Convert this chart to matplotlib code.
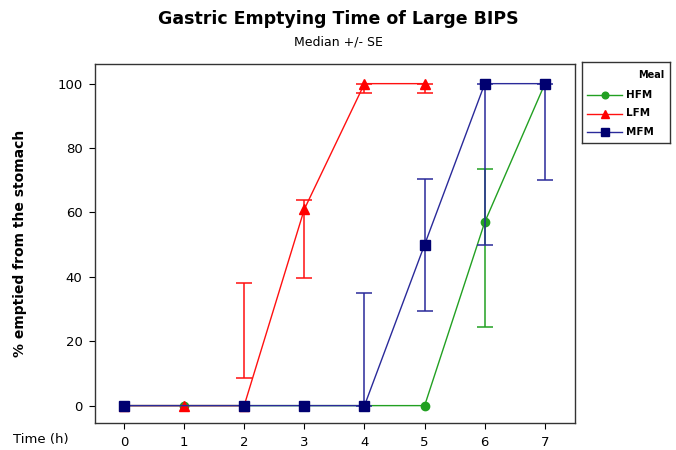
import numpy as np
import matplotlib
matplotlib.use("Agg")
import matplotlib.pyplot as plt

# ---- data ----
hfm_time = [0, 1, 2, 3, 4, 5, 6, 7]
hfm_med = [0, 0, 0, 0, 0, 0, 57, 100]
hfm_err_time = [6]
hfm_err_lo = [24.5]
hfm_err_hi = [73.5]

lfm_time = [0, 1, 2, 3, 4, 5]
lfm_med = [0, 0, 0, 61, 100, 100]
lfm_err_time = [2, 3, 4, 5]
lfm_err_lo = [8.5, 39.5, 97, 97]
lfm_err_hi = [38, 64, 100, 100]

mfm_time = [0, 2, 3, 4, 5, 6, 7]
mfm_med = [0, 0, 0, 0, 50, 100, 100]
mfm_err_time = [4, 5, 6, 7]
mfm_err_lo = [0, 29.5, 50, 70]
mfm_err_hi = [35, 70.5, 100, 100]

x_ticks = [0, 1, 2, 3, 4, 5, 6, 7]
y_ticks = [0, 20, 40, 60, 80, 100]

title = "Gastric Emptying Time of Large BIPS"
subtitle = "Median +/- SE"
ylabel = "% emptied from the stomach"
xlabel = "Time (h)"
legend_title = "Meal"

plt.rcParams['font.family'] = ['DejaVu Sans']

fig = plt.figure(figsize=(6.76, 4.5), dpi=100)
ax = fig.add_axes([95/676, 27/450, 480/676, 359/450])

series = [
    ("HFM", hfm_time, hfm_med, hfm_err_time, hfm_err_lo, hfm_err_hi, '#22a022', '#22a022', 'o', 6.0),
    ("LFM", lfm_time, lfm_med, lfm_err_time, lfm_err_lo, lfm_err_hi, '#ff1010', '#ff0000', '^', 7.0),
    ("MFM", mfm_time, mfm_med, mfm_err_time, mfm_err_lo, mfm_err_hi, '#2a2a9a', '#000070', 's', 7.0),
]

for i, (name, t, m, et, lo, hi, lc, mc, mk, ms) in enumerate(series):
    lo = np.array(lo, float)
    hi = np.array(hi, float)
    ax.errorbar(et, (lo + hi) / 2, yerr=(hi - lo) / 2, fmt='none', ecolor=lc,
                elinewidth=1.1, capsize=6, capthick=1.1, zorder=2 + i)
    ax.plot(t, m, color=lc, lw=1.0, marker=mk, ms=ms, mfc=mc, mec=mc,
            zorder=3 + i, label=name)

ax.set_xlim(-0.48, 7.5)
ax.set_ylim(-5.4, 106.1)
ax.set_xticks(x_ticks)
ax.set_yticks(y_ticks)
ax.tick_params(direction='out', length=4, width=0.8, labelsize=9.5, colors='black', pad=5)
for s in ax.spines.values():
    s.set_linewidth(1.0)
    s.set_color('#333333')

ax.set_ylabel(ylabel, fontsize=10, fontweight='bold')
ax.yaxis.set_label_coords((27 - 95) / 480, 0.5)
fig.text(13/676, 1 - 440/450, xlabel, fontsize=9.5, ha='left', va='center')

fig.text(338/676, 1 - 19/450, title, fontsize=12.5, fontweight='bold', ha='center', va='center')
fig.text(338/676, 1 - 42/450, subtitle, fontsize=9, ha='center', va='center')

# legend box
lax = fig.add_axes([582/676, 1 - 143/450, 88/676, 81/450])
lax.set_xlim(0, 88)
lax.set_ylim(81, 0)
lax.set_xticks([])
lax.set_yticks([])
for s in lax.spines.values():
    s.set_linewidth(1.0)
    s.set_color('#333333')
lax.text(69, 13, legend_title, fontsize=7, fontweight='bold', ha='center', va='center')
for j, (name, t, m, et, lo, hi, lc, mc, mk, ms) in enumerate(series):
    yy = 33 + j * 18.5
    lax.plot([5, 40], [yy, yy], color=lc, lw=1.0)
    lax.plot([22.5], [yy], marker=mk, ms=ms * 0.8, color=mc, mec=mc)
    lax.text(44, yy, name, fontsize=7.5, fontweight='bold', ha='left', va='center')

fig.savefig("out.png", dpi=100)
